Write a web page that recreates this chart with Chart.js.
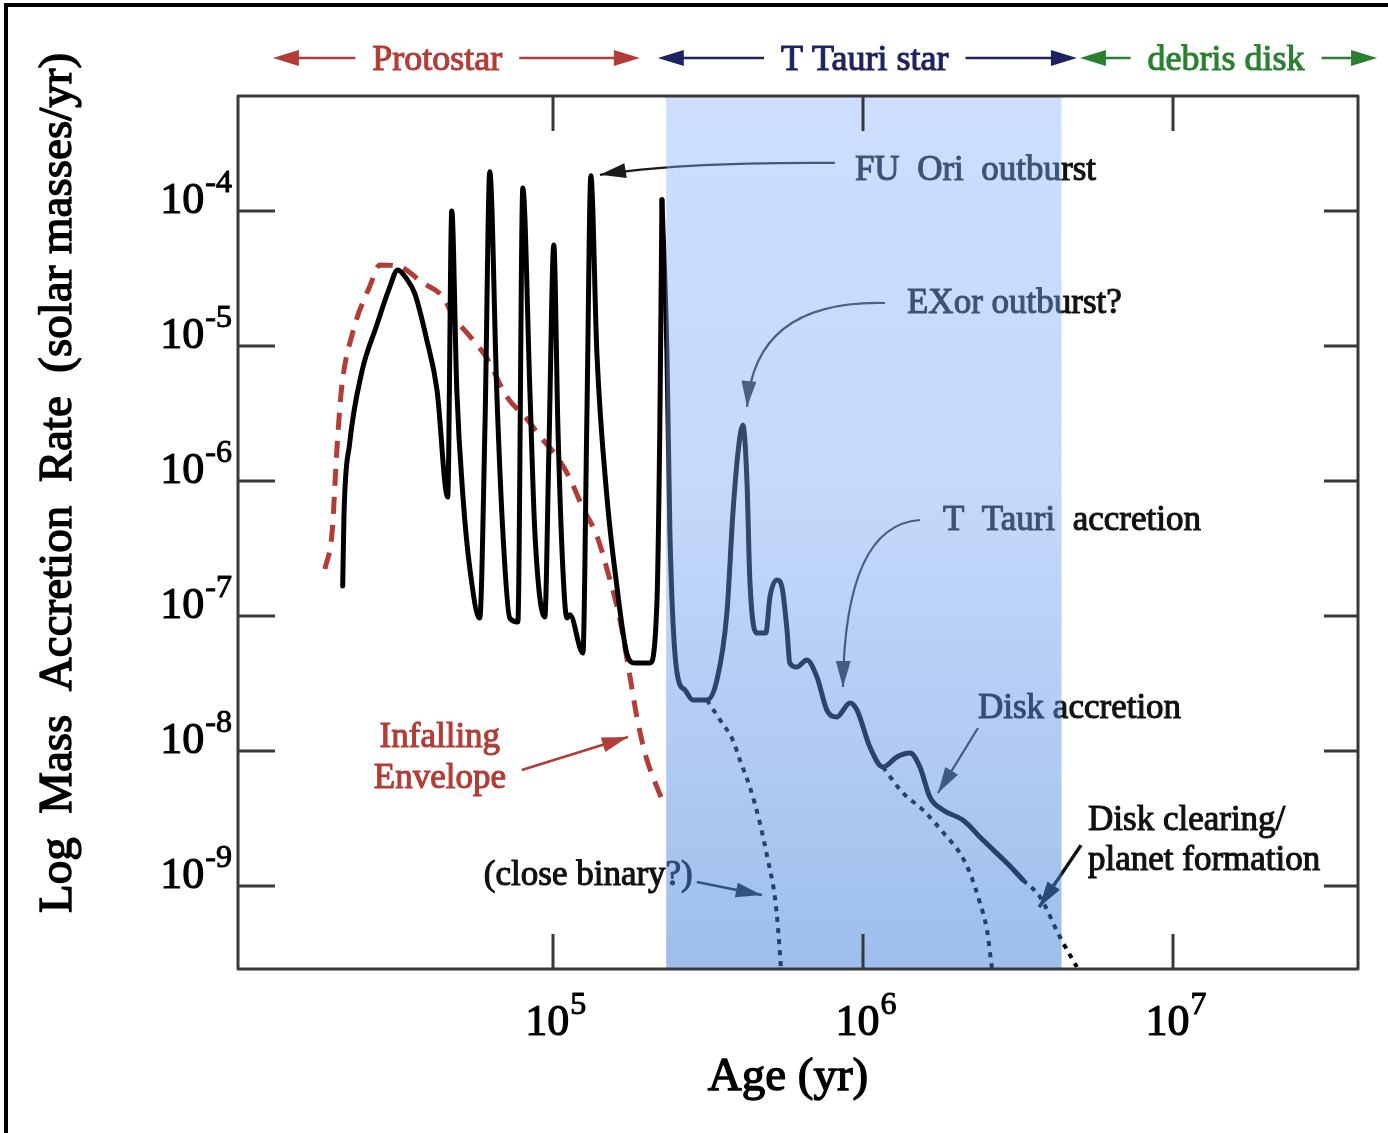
<!DOCTYPE html>
<html>
<head>
<meta charset="utf-8">
<title>Mass accretion history of a young star</title>
<script src="https://cdn.jsdelivr.net/npm/chart.js@4.4.1/dist/chart.umd.min.js"></script>
<style>
  html, body { margin: 0; padding: 0; background: #fff; }
  canvas { display: block; }
</style>
</head>
<body>
<canvas id="accretionChart" width="1388" height="1133"></canvas>
<script>
// values: age in yr, accretion rate in solar masses / yr
const protostarAge  = [2.10e4, 2.12e4, 2.21e4, 2.42e4, 2.70e4, 2.98e4, 3.16e4, 3.38e4, 3.59e4, 3.92e4,
                       4.23e4, 4.58e4, 4.72e4, 4.90e4, 5.13e4, 5.40e4, 5.81e4, 6.04e4, 6.26e4, 6.59e4,
                       6.90e4, 7.26e4, 7.71e4, 8.00e4, 8.43e4, 8.75e4, 9.42e4, 9.71e4, 1.007e5, 1.038e5,
                       1.077e5, 1.110e5, 1.135e5, 1.250e5, 1.287e5, 1.326e5, 1.387e5, 1.494e5, 1.608e5, 1.733e5,
                       1.838e5, 2.056e5, 2.165e5, 2.213e5, 2.248e5];
const protostarRate = [1.67e-7, 5.60e-7, 1.88e-6, 6.41e-6, 1.41e-5, 2.74e-5, 3.66e-5, 3.13e-5, 2.43e-5, 1.11e-5,
                       4.72e-6, 7.60e-7, 1.00e-4, 4.72e-6, 7.60e-7, 2.23e-7, 9.66e-8, 2.55e-6, 1.95e-4, 4.72e-6,
                       4.12e-7, 9.66e-8, 9.04e-8, 1.48e-4, 4.72e-6, 4.12e-7, 9.84e-8, 1.70e-6, 5.60e-5, 2.55e-6,
                       2.23e-7, 9.66e-8, 1.02e-7, 5.32e-8, 2.83e-6, 1.82e-4, 8.73e-6, 7.60e-7, 1.67e-7, 5.24e-8,
                       4.49e-8, 4.49e-8, 1.23e-7, 2.55e-6, 1.21e-4];

const tTauriAge  = [2.248e5, 2.333e5, 2.385e5, 2.512e5, 2.666e5, 2.829e5, 3.139e5, 3.381e5, 3.641e5, 3.808e5,
                    3.952e5, 4.100e5, 4.225e5, 4.318e5, 4.550e5, 4.863e5, 5.012e5, 5.280e5, 5.48e5, 5.69e5,
                    5.81e5, 6.12e5, 6.59e5, 7.11e5, 7.65e5, 8.24e5, 9.08e5, 9.57e5, 1.053e6, 1.160e6,
                    1.287e6, 1.418e6, 1.527e6, 1.644e6, 1.811e6, 2.10e6, 2.438e6, 2.914e6, 3.281e6];
const tTauriRate = [1.21e-4, 8.73e-6, 4.12e-7, 3.85e-8, 2.83e-8, 2.39e-8, 2.39e-8, 3.36e-8, 1.05e-7, 5.79e-7,
                    1.61e-6, 2.60e-6, 1.02e-6, 1.85e-7, 7.48e-8, 7.48e-8, 1.38e-7, 1.85e-7, 1.64e-7, 7.87e-8,
                    4.49e-8, 4.19e-8, 4.72e-8, 3.53e-8, 2.01e-8, 1.79e-8, 2.27e-8, 2.01e-8, 1.07e-8, 7.60e-9,
                    9.04e-9, 9.66e-9, 7.60e-9, 4.56e-9, 3.66e-9, 3.08e-9, 2.19e-9, 1.48e-9, 1.11e-9];

const binaryAge  = [3.139e5, 3.459e5, 3.808e5, 4.011e5, 4.318e5, 4.652e5, 4.937e5, 5.200e5, 5.32e5, 5.44e5];
const binaryRate = [2.39e-8, 1.70e-8, 1.20e-8, 8.57e-9, 5.41e-9, 2.93e-9, 1.56e-9, 8.30e-10, 4.97e-10, 2.47e-10];

const earlyClearAge  = [1.160e6, 1.346e6, 1.561e6, 1.866e6, 2.056e6, 2.213e6, 2.385e6, 2.512e6, 2.606e6];
const earlyClearRate = [7.60e-9, 4.89e-9, 3.66e-9, 2.31e-9, 1.75e-9, 1.25e-9, 7.48e-10, 4.72e-10, 2.47e-10];

const clearingAge  = [3.281e6, 3.724e6, 4.318e6, 4.898e6];
const clearingRate = [1.11e-9, 8.30e-10, 4.19e-10, 2.51e-10];

const envelopeAge  = [1.84e4, 1.94e4, 2.01e4, 2.08e4, 2.26e4, 2.57e4, 2.77e4, 3.21e4, 3.81e4, 4.42e4,
                      4.75e4, 5.52e4, 6.12e4, 7.11e4, 8.24e4, 9.08e4, 1.053e5, 1.135e5, 1.25e5, 1.387e5,
                      1.494e5, 1.644e5, 1.771e5, 1.866e5, 1.981e5, 2.248e5];
const envelopeRate = [2.23e-7, 4.12e-7, 1.67e-6, 4.72e-6, 1.25e-5, 2.78e-5, 3.98e-5, 3.85e-5, 2.93e-5, 2.31e-5,
                      1.70e-5, 1.11e-5, 8.15e-6, 4.19e-6, 2.88e-6, 2.15e-6, 1.41e-6, 1.04e-6, 6.31e-7, 3.92e-7,
                      2.23e-7, 9.50e-8, 3.60e-8, 1.79e-8, 9.66e-9, 4.34e-9];

// T Tauri phase (shaded) and evolutionary stages along the top
const tTauriSpan   = [2.32e5, 4.37e6];
const stageNames   = ['Protostar', 'T Tauri star', 'debris disk'];
const stageStart   = [1.25e4, 2.18e5, 5.01e6];
const stageEnd     = [1.908e5, 4.90e6, 4.55e7];
const stageCentre  = [4.24e4, 1.014e6, 1.483e7];

// axes
const ageRange   = [9.65e3, 3.95e7];
const rateRange  = [2.43e-10, 7.1e-4];
const ageTicks   = [1e5, 1e6, 1e7];
const ageExps    = ['5', '6', '7'];
const rateTicks  = [1e-4, 1e-5, 1e-6, 1e-7, 1e-8, 1e-9];
const rateExps   = ['-4', '-5', '-6', '-7', '-8', '-9'];

const SERIF = '"Liberation Serif", "Times New Roman", serif';
const RED = '#b23d36';
const NAVY = '#1c2360';
const GREEN = '#2a8030';
const FRAME = '#383838';

// labels and arrows, placed in data coordinates [age, rate]
const notes = [
  { text: 'FU  Ori  outburst',  at: [9.42e5, 1.70e-4] },
  { text: 'EXor outburst?',     at: [1.387e6, 1.75e-5] },
  { text: 'T  Tauri  accretion', at: [1.811e6, 4.34e-7] },
  { text: 'Disk accretion',     at: [2.35e6, 1.75e-8] },
  { text: 'Disk clearing/',     at: [5.32e6, 2.60e-9] },
  { text: 'planet formation',   at: [5.32e6, 1.32e-9] },
  { text: '(close binary?)',    at: [5.99e4, 1.02e-9] },
  { text: 'Infalling', at: [4.32e4, 1.07e-8], align: 'center', color: RED },
  { text: 'Envelope',  at: [4.32e4, 5.32e-9], align: 'center', color: RED }
];
const pointers = [
  { from: [8.12e5, 2.27e-4], via: [2.57e5, 2.31e-4], to: [1.418e5, 1.85e-4], color: '#1a1a1a' },
  { from: [1.178e6, 2.08e-5], via: [4.48e5, 2.19e-5], to: [4.23e5, 3.53e-6] },
  { from: [1.527e6, 5.14e-7], via: [8.75e5, 4.72e-7], to: [8.62e5, 2.98e-8] },
  { from: [2.35e6, 1.48e-8], to: [1.746e6, 4.89e-9] },
  { from: [5.05e6, 2.01e-9], to: [3.70e6, 6.98e-10], color: '#111', width: 3.5 },
  { from: [2.914e5, 1.07e-9], to: [4.72e5, 8.57e-10], color: '#222', width: 2.5 },
  { from: [7.94e4, 7.23e-9], to: [1.746e5, 1.27e-8], color: RED, width: 2.5 }
];

function toPoints(xs, ys) {
  return xs.map(function(x, i) { return { x: x, y: ys[i] }; });
}

// filled text with a thin outline so it reads as heavy as the scanned figure
function ink(c, text, x, y, weight) {
  c.fillText(text, x, y);
  c.lineWidth = weight || 1;
  c.strokeStyle = c.fillStyle;
  c.lineJoin = 'round';
  c.strokeText(text, x, y);
}

function head(c, tipX, tipY, fromX, fromY, len, half, color) {
  const ang = Math.atan2(tipY - fromY, tipX - fromX);
  c.save();
  c.translate(tipX, tipY);
  c.rotate(ang);
  c.fillStyle = color;
  c.beginPath();
  c.moveTo(0, 0);
  c.lineTo(-len, -half);
  c.lineTo(-len, half);
  c.closePath();
  c.fill();
  c.restore();
}

function sci(c, exp, anchorX, baseY, align) {
  c.font = '44px ' + SERIF;
  const bw = c.measureText('10').width;
  c.font = '32px ' + SERIF;
  const ew = c.measureText(exp).width;
  const total = bw + 1 + ew;
  const left = align === 'right' ? anchorX - total : anchorX - total / 2;
  c.textAlign = 'left';
  c.font = '44px ' + SERIF;
  ink(c, '10', left, baseY, 1.2);
  c.font = '32px ' + SERIF;
  ink(c, exp, left + bw + 1, baseY - 21, 1);
}

const decorations = {
  id: 'decorations',
  beforeDraw: function(chart) {
    const c = chart.ctx;
    c.save();
    c.fillStyle = '#fff';
    c.fillRect(0, 0, chart.width, chart.height);
    c.restore();
  },
  afterDatasetsDraw: function(chart) {
    const c = chart.ctx, a = chart.chartArea;
    const sx = chart.scales.x, sy = chart.scales.y;
    const P = function(p) { return [sx.getPixelForValue(p[0]), sy.getPixelForValue(p[1])]; };
    c.save();
    c.textBaseline = 'alphabetic';

    // annotation text + pointers (sit under the shading)
    notes.forEach(function(n) {
      const p = P(n.at);
      c.font = '35px ' + SERIF;
      c.fillStyle = n.color || '#111';
      c.textAlign = n.align || 'left';
      ink(c, n.text, p[0], p[1], 1.1);
    });
    pointers.forEach(function(q) {
      const col = q.color || '#2a2a2a';
      const p0 = P(q.from), p1 = P(q.to), pc = q.via ? P(q.via) : null;
      c.strokeStyle = col;
      c.lineWidth = q.width || 2.2;
      c.beginPath();
      c.moveTo(p0[0], p0[1]);
      if (pc) c.quadraticCurveTo(pc[0], pc[1], p1[0], p1[1]);
      else c.lineTo(p1[0], p1[1]);
      c.stroke();
      const f = pc || p0;
      head(c, p1[0], p1[1], f[0], f[1], 26, 7.5, col);
    });

    // T Tauri phase shading
    const x0 = sx.getPixelForValue(tTauriSpan[0]), x1 = sx.getPixelForValue(tTauriSpan[1]);
    const g = c.createLinearGradient(0, a.top, 0, a.bottom);
    g.addColorStop(0, 'rgba(134,176,255,0.41)');
    g.addColorStop(0.45, 'rgba(120,165,245,0.43)');
    g.addColorStop(1, 'rgba(61,125,217,0.5)');
    c.fillStyle = g;
    c.fillRect(x0, a.top, x1 - x0, a.bottom - a.top);

    // frame and inward ticks on all four sides
    c.strokeStyle = FRAME;
    c.lineWidth = 3;
    c.strokeRect(a.left, a.top, a.right - a.left, a.bottom - a.top);
    c.lineWidth = 3;
    c.beginPath();
    ageTicks.forEach(function(v) {
      const x = Math.round(sx.getPixelForValue(v));
      c.moveTo(x, a.top); c.lineTo(x, a.top + 35);
      c.moveTo(x, a.bottom); c.lineTo(x, a.bottom - 35);
    });
    rateTicks.forEach(function(v) {
      const y = Math.round(sy.getPixelForValue(v));
      c.moveTo(a.left, y); c.lineTo(a.left + 37, y);
      c.moveTo(a.right, y); c.lineTo(a.right - 34, y);
    });
    c.stroke();

    // tick labels
    c.fillStyle = '#000';
    rateTicks.forEach(function(v, i) {
      sci(c, rateExps[i], a.left - 6, sy.getPixelForValue(v) + 2, 'right');
    });
    ageTicks.forEach(function(v, i) {
      sci(c, ageExps[i], sx.getPixelForValue(v) + 3, a.bottom + 66, 'center');
    });

    // axis titles
    c.font = '47px ' + SERIF;
    c.textAlign = 'center';
    c.fillStyle = '#000';
    ink(c, 'Age (yr)', (a.left + a.right) / 2 - 10, a.bottom + 121, 1.4);
    c.save();
    c.translate(a.left - 167, a.top + 387);
    c.rotate(-Math.PI / 2);
    ink(c, 'Log  Mass  Accretion  Rate  (solar masses/yr)', 0, 0, 1.4);
    c.restore();

    // evolutionary stages across the top
    const stageColors = [RED, NAVY, GREEN];
    stageNames.forEach(function(name, i) {
      const col = stageColors[i];
      const xl = sx.getPixelForValue(stageStart[i]);
      const xr = sx.getPixelForValue(stageEnd[i]);
      const xc = sx.getPixelForValue(stageCentre[i]);
      const y = a.top - 38;
      c.font = '36px ' + SERIF;
      c.textAlign = 'center';
      c.fillStyle = col;
      ink(c, name, xc, y + 12, 1.1);
      const w = c.measureText(name).width;
      c.strokeStyle = col;
      c.lineWidth = 2.5;
      c.beginPath();
      c.moveTo(xl + 20, y); c.lineTo(xc - w / 2 - 17, y);
      c.moveTo(xc + w / 2 + 17, y); c.lineTo(xr - 20, y);
      c.stroke();
      head(c, xl, y, xl + 10, y, 26, 8, col);
      head(c, xr, y, xr - 10, y, 26, 8, col);
    });

    // outer border of the figure
    c.fillStyle = '#000';
    c.fillRect(4, 3, chart.width - 4, 4);
    c.fillRect(4, 3, 4, chart.height - 3);
    c.restore();
  }
};

const ctx = document.getElementById('accretionChart').getContext('2d');
new Chart(ctx, {
  type: 'line',
  data: {
    datasets: [
      {
        label: 'Protostellar accretion',
        data: toPoints(protostarAge, protostarRate),
        borderColor: '#000', borderWidth: 5, borderJoinStyle: 'round', borderCapStyle: 'round',
        pointRadius: 0, cubicInterpolationMode: 'monotone', fill: false
      },
      {
        label: 'T Tauri accretion',
        data: toPoints(tTauriAge, tTauriRate),
        borderColor: '#000', borderWidth: 5, borderJoinStyle: 'round', borderCapStyle: 'round',
        pointRadius: 0, cubicInterpolationMode: 'monotone', fill: false
      },
      {
        label: 'close binary',
        data: toPoints(binaryAge, binaryRate),
        borderColor: '#000', borderWidth: 4, borderDash: [5, 6],
        pointRadius: 0, cubicInterpolationMode: 'monotone', fill: false
      },
      {
        label: 'early clearing',
        data: toPoints(earlyClearAge, earlyClearRate),
        borderColor: '#000', borderWidth: 4, borderDash: [5, 6],
        pointRadius: 0, cubicInterpolationMode: 'monotone', fill: false
      },
      {
        label: 'disk clearing',
        data: toPoints(clearingAge, clearingRate),
        borderColor: '#000', borderWidth: 4, borderDash: [5, 6],
        pointRadius: 0, cubicInterpolationMode: 'monotone', fill: false
      },
      {
        label: 'Infalling Envelope',
        data: toPoints(envelopeAge, envelopeRate),
        borderColor: RED, borderWidth: 5, borderDash: [17, 11],
        pointRadius: 0, cubicInterpolationMode: 'monotone', fill: false
      }
    ]
  },
  options: {
    responsive: false,
    animation: false,
    devicePixelRatio: 1,
    events: [],
    layout: { padding: { left: 238, top: 96, right: 30, bottom: 164 } },
    scales: {
      x: { type: 'logarithmic', min: ageRange[0], max: ageRange[1], display: false },
      y: { type: 'logarithmic', min: rateRange[0], max: rateRange[1], display: false }
    },
    plugins: { legend: { display: false }, tooltip: { enabled: false } }
  },
  plugins: [decorations]
});
</script>
</body>
</html>
